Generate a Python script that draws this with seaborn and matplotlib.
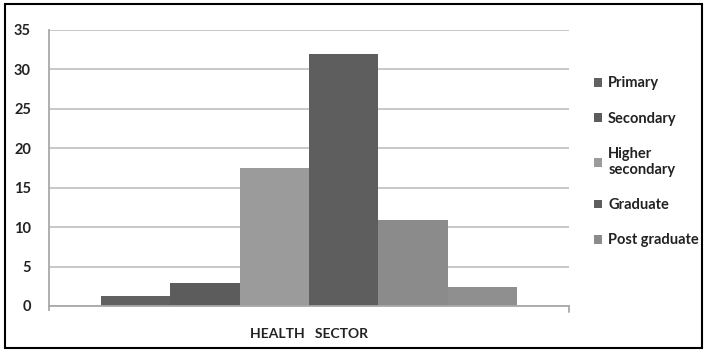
import pandas as pd
import seaborn as sns
import matplotlib.pyplot as plt
from matplotlib.patches import Patch, Rectangle

# Data
sector = ["HEALTH   SECTOR"]
levels = ["Primary", "Secondary", "Higher secondary", "Graduate", "Post graduate", "Other"]
values = [1.3, 2.9, 17.5, 32.0, 10.9, 2.4]
legend_labels = ["Primary", "Secondary", "Higher\nsecondary", "Graduate", "Post graduate"]
bar_colors = ["#616161", "#5c5c5c", "#9b9b9b", "#5e5e5e", "#8b8b8b", "#8f8f8f"]

df = pd.DataFrame({"sector": sector * len(levels), "level": levels, "value": values})

sns.set_style("white")
plt.rcParams["font.family"] = ["Lato", "DejaVu Sans"]

fig = plt.figure(figsize=(7.07, 3.52), dpi=100)
ax = fig.add_axes([0.0693, 0.1307, 0.7355, 0.7841])

sns.barplot(data=df, x="sector", y="value", hue="level", hue_order=levels,
            palette=bar_colors, saturation=1, width=0.8, legend=False, ax=ax,
            edgecolor="none", linewidth=0)

ax.set_ylim(0, 35)
ax.set_yticks(range(0, 36, 5))
ax.set_xlim(-0.5, 0.5)
ax.yaxis.grid(True, color="#c4c4c4", linewidth=1.3)
ax.set_axisbelow(True)
for s in ["top", "right"]:
    ax.spines[s].set_visible(False)
for s in ["left", "bottom"]:
    ax.spines[s].set_color("#a8a8a8")
    ax.spines[s].set_linewidth(1.3)
ax.spines["left"].set_bounds(-0.5, 35)
ax.tick_params(axis="y", direction="out", length=6, width=1.2, color="#a8a8a8",
               labelsize=10.5, labelcolor="#222222", pad=7)
ax.tick_params(axis="x", direction="out", length=0, labelsize=10, labelcolor="#222222", pad=16)
for t in ax.get_yticklabels() + ax.get_xticklabels():
    t.set_fontweight("bold")
ax.set_xlabel("")
ax.set_ylabel("")
# small end tick at right of category axis
ax.plot([0.5, 0.5], [0, -0.8], color="#a8a8a8", linewidth=1.3, clip_on=False)

handles = [Patch(facecolor=c, edgecolor="none") for c in bar_colors[:5]]
fig.legend(handles, legend_labels, loc="upper left", bbox_to_anchor=(0.822, 0.82),
           frameon=False, handlelength=0.55, handleheight=0.55, handletextpad=0.4,
           labelspacing=1.45, prop={"size": 10.5, "weight": "bold"},
           labelcolor="#222222")

fig.patches.append(Rectangle((0.007, 0.012), 0.986, 0.978, transform=fig.transFigure,
                             fill=False, edgecolor="black", linewidth=1.5))

fig.savefig("out.png", dpi=100)
